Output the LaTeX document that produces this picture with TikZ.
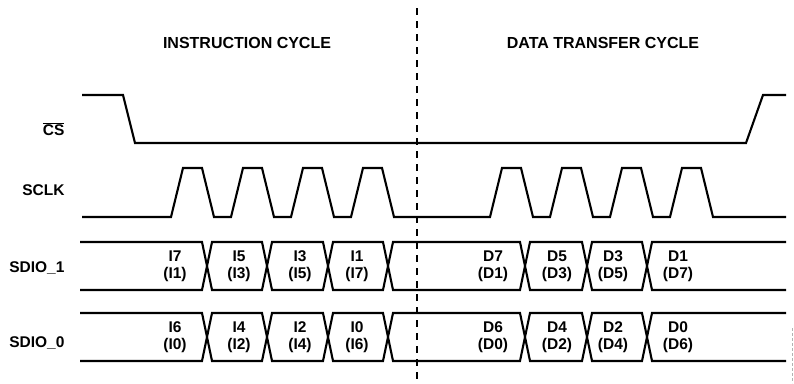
\documentclass[tikz,border=0pt]{standalone}
\usepackage{fontspec}
\setmainfont{Liberation Sans}
\usetikzlibrary{positioning}

\begin{document}
\begin{tikzpicture}[
  x=1pt, y=-1pt,
  wave/.style = { line width=2.1pt, line join=miter, draw=black },
  divider/.style = { line width=2pt, dash pattern=on 7pt off 6pt },
  sig/.style = { anchor=east, font=\fontsize{15.5}{17}\selectfont\bfseries },
  title/.style = { font=\fontsize{16}{18}\selectfont\bfseries },
  bit/.style = { align=center, inner sep=0pt, font=\fontsize{15.5}{17}\selectfont\bfseries }
]
\useasboundingbox (0,0) rectangle (794,383);

% cycle titles and divider
\node[title] (instr) at (247,43) {INSTRUCTION CYCLE};
\node[title] (data)  at (603,43) {DATA TRANSFER CYCLE};
\draw[divider] (417,8) -- (417,383);

% signal names
\node[sig] (cs)    at (68,129) {$\overline{\mbox{CS}}$};
\node[sig] (sclk)  at (68,190) {SCLK};
\node[sig] (sdio1) at (68,268) {SDIO\_1};
\node[sig] (sdio0) at (68,343) {SDIO\_0};

% chip select
\draw[wave] (82,95) -- (123,95) -- (135,143) -- (746,143) -- (763,95) -- (786,95);

% clock
\draw[wave] (82,217)
  foreach \x in {171,231,291,351,490,550,610,670}
    { -- (\x,217) -- (\x+12,168) -- (\x+31,168) -- (\x+43,217) }
  -- (786,217);

% data buses
\foreach \m in {266,337} {
  \draw[wave] (80,\m-24) -- (202,\m-24) -- (207,\m) -- (202,\m+24) -- (80,\m+24);
  \foreach \a/\b in {207/267,267/328,328/388,388/525,525/587,587/647}
    \draw[wave] (\a,\m) -- (\a+5,\m-24) -- (\b-5,\m-24) -- (\b,\m)
      -- (\b-5,\m+24) -- (\a+5,\m+24) -- cycle;
  \draw[wave] (786,\m-24) -- (652,\m-24) -- (647,\m) -- (652,\m+24) -- (786,\m+24);
}

% bit labels
\foreach \x/\bitA/\bitB [count=\k] in {175/I7/I1, 239/I5/I3, 300/I3/I5, 357/I1/I7,
    493/D7/D1, 557/D5/D3, 613/D3/D5, 678/D1/D7}
  \node[bit] (one\k) at (\x,266) {\bitA\\(\bitB)};
\foreach \x/\bitA/\bitB [count=\k] in {175/I6/I0, 239/I4/I2, 300/I2/I4, 357/I0/I6,
    493/D6/D0, 557/D4/D2, 613/D2/D4, 678/D0/D6}
  \node[bit] (zero\k) at (\x,337) {\bitA\\(\bitB)};

% edge mark
\draw[gray!60, line width=0.8pt, dash pattern=on 3pt off 2pt] (792,328) -- (792,383);
\end{tikzpicture}
\end{document}
